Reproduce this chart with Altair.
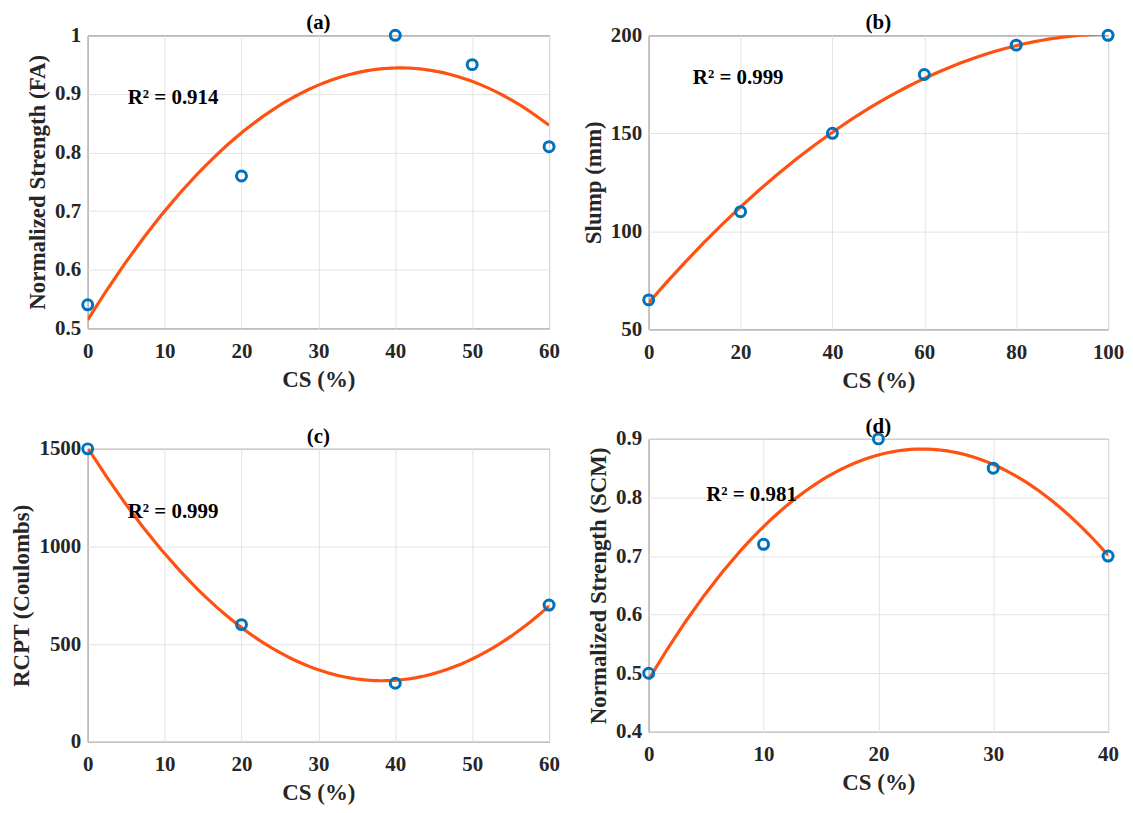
import altair as alt
import pandas as pd

# ---- data ----
a_x = [0, 20, 40, 50, 60]
a_y = [0.54, 0.76, 1.00, 0.95, 0.81]

b_x = [0, 20, 40, 60, 80, 100]
b_y = [65, 110, 150, 180, 195, 200]

c_x = [0, 20, 40, 60]
c_y = [1500, 600, 300, 700]

d_x = [0, 10, 20, 30, 40]
d_y = [0.50, 0.72, 0.90, 0.85, 0.70]

r2_labels = ["R² = 0.914", "R² = 0.999", "R² = 0.999", "R² = 0.981"]
panel_titles = ["(a)", "(b)", "(c)", "(d)"]
y_titles = ["Normalized Strength (FA)", "Slump (mm)", "RCPT (Coulombs)", "Normalized Strength (SCM)"]

FONT = "Liberation Serif"
BLUE = "#0072BD"
ORANGE = "#FF5212"


def panel(xs, ys, xdom, xticks, ydom, yticks, ytitle, title, r2, tx, ty, w, h,
          xfmt="d", yfmt="~g", title_offset=-9):
    df = pd.DataFrame({"x": xs, "y": ys})
    xenc = alt.X("x:Q", scale=alt.Scale(domain=xdom, nice=False, zero=False),
                 axis=alt.Axis(values=xticks, title="CS (%)", format=xfmt))
    yenc = alt.Y("y:Q", scale=alt.Scale(domain=ydom, nice=False, zero=False),
                 axis=alt.Axis(values=yticks, title=ytitle, format=yfmt))
    base = alt.Chart(df)
    line = base.transform_regression("x", "y", method="poly", order=2).mark_line(
        color=ORANGE, strokeWidth=3.2, clip=True).encode(x=xenc, y=yenc)
    pts = base.mark_point(shape="circle", filled=False, color=BLUE, strokeWidth=3,
                          size=100, opacity=1).encode(x=xenc, y=yenc)
    tdf = pd.DataFrame({"x": [tx], "y": [ty], "t": [r2]})
    txt = alt.Chart(tdf).mark_text(align="left", baseline="middle", font=FONT,
                                   fontWeight="bold", fontSize=21, color="black").encode(
        x=alt.X("x:Q"), y=alt.Y("y:Q"), text="t:N")
    return alt.layer(line, pts, txt).properties(
        width=w, height=h,
        title=alt.Title(title, font=FONT, fontWeight="bold", fontSize=21, offset=title_offset,
                        color="black", frame="group", anchor="middle"))


pa = panel(a_x, a_y, [0, 60], [0, 10, 20, 30, 40, 50, 60], [0.5, 1.0],
           [0.5, 0.6, 0.7, 0.8, 0.9, 1.0], y_titles[0], panel_titles[0], r2_labels[0],
           5.2, 0.893, 463, 294)
pb = panel(b_x, b_y, [0, 100], [0, 20, 40, 60, 80, 100], [50, 200],
           [50, 100, 150, 200], y_titles[1], panel_titles[1], r2_labels[1],
           9.6, 178, 461, 295, yfmt="d")
pc = panel(c_x, c_y, [0, 60], [0, 10, 20, 30, 40, 50, 60], [0, 1500],
           [0, 500, 1000, 1500], y_titles[2], panel_titles[2], r2_labels[2],
           5.2, 1179, 463, 294, yfmt="d")
pd_ = panel(d_x, d_y, [0, 40], [0, 10, 20, 30, 40], [0.4, 0.9],
            [0.4, 0.5, 0.6, 0.7, 0.8, 0.9], y_titles[3], panel_titles[3], r2_labels[3],
            5.0, 0.805, 461, 294)

chart = alt.hconcat(
    alt.vconcat(pa, pc, spacing=33),
    alt.vconcat(pb, pd_, spacing=22),
    spacing=21,
).properties(
    padding={"left": 2, "top": 2, "right": 0, "bottom": 0},
    background="white",
).configure_view(
    stroke="#262626", strokeWidth=1,
).configure_axis(
    labelFont=FONT, labelFontWeight="bold", labelFontSize=21, labelColor="#262626",
    titleFont=FONT, titleFontWeight="bold", titleFontSize=23, titleColor="#262626",
    grid=True, gridColor="#e3e3e3", gridWidth=1,
    domain=False, ticks=False, labelFlush=False,
).configure_axisY(
    labelPadding=7, titlePadding=5,
).configure_axisX(
    labelPadding=12, titlePadding=7,
)

chart.save("out.html", embed_options={"renderer": "svg", "actions": False})
